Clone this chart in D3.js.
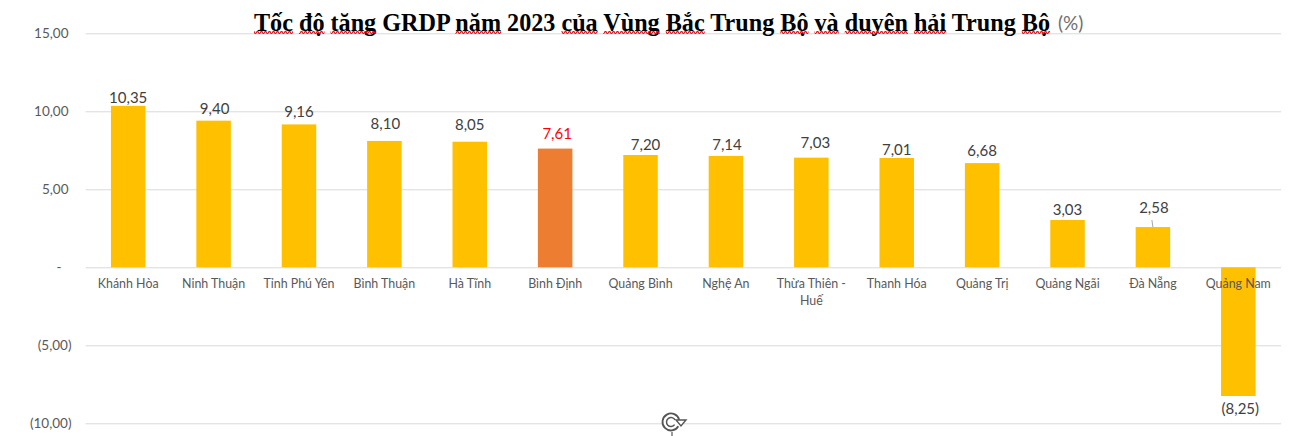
<!DOCTYPE html>
<html>
<head>
<meta charset="utf-8">
<script src="https://cdn.jsdelivr.net/npm/d3@7"></script>
<style>
  html, body { margin: 0; padding: 0; background: #fff; }
  svg { display: block; }
  text { font-family: Lato, "Open Sans", sans-serif; }
</style>
</head>
<body>
<div id="chart"></div>
<script>
const provinces = ['Khánh Hòa', 'Ninh Thuận', 'Tỉnh Phú Yên', 'Bình Thuận', 'Hà Tĩnh', 'Bình Định', 'Quảng Bình',
  'Nghệ An', 'Thừa Thiên - Huế', 'Thanh Hóa', 'Quảng Trị', 'Quảng Ngãi', 'Đà Nẵng', 'Quảng Nam'];
const growth = [10.35, 9.40, 9.16, 8.10, 8.05, 7.61, 7.20, 7.14, 7.03, 7.01, 6.68, 3.03, 2.58, -8.25];
const yTicks = [15, 10, 5, 0, -5, -10];
const highlighted = 'Bình Định';
const titleText = 'Tốc độ tăng GRDP năm 2023 của Vùng Bắc Trung Bộ và duyên hải Trung Bộ';
const unitText = '(%)';
// words the spell checker flagged in the original screenshot
const flaggedWords = ['Tốc', 'độ', 'tăng', 'năm', 'của', 'Vùng', 'Bắc', 'Bộ', 'và', 'duyên', 'hải', 'Bộ'];
// hand-placed data labels in the original, offsets from the default spot
const labelNudge = [[0, 1.5], [1, -3], [0, -3], [1, -7.5], [0, -7.5], [2, -6], [5, -1], [1, -2], [4, -6], [0, 1], [0, -3], [0, -1], [1, -10], [2, -1]];

const width = 1309, height = 436;
const margin = { top: 33.3, right: 28, bottom: 12.7, left: 85.5 };
const innerWidth = width - margin.left - margin.right;
const innerHeight = height - margin.top - margin.bottom;

const svg = d3.select('#chart').append('svg').attr('width', width).attr('height', height);

const defs = svg.append('defs');
defs.append('pattern')
  .attr('id', 'squiggle').attr('x', 0).attr('y', 31).attr('width', 4).attr('height', 3)
  .attr('patternUnits', 'userSpaceOnUse')
  .append('path')
  .attr('d', 'M0,2.5 L1,0.6 L2,0.6 L3,2.5 L4,2.5')
  .attr('fill', 'none').attr('stroke', '#e8101c').attr('stroke-width', 1.1);

const g = svg.append('g').attr('transform', `translate(${margin.left},${margin.top})`);

const x = d3.scaleBand().domain(provinces).range([0, innerWidth]).paddingInner(0.596).paddingOuter(0.298);
const y = d3.scaleLinear().domain([-10, 15]).range([innerHeight, 0]);

// y axis with accounting style labels
const formatNum = v => d3.format('.2f')(Math.abs(v)).replace('.', ',');
const formatTick = v => v === 0 ? '-' : v < 0 ? `(${formatNum(v)})` : formatNum(v);

const yAxis = g.append('g')
  .call(d3.axisLeft(y).tickValues(yTicks).tickSize(-innerWidth).tickPadding(17).tickFormat(formatTick));
yAxis.select('.domain').remove();
yAxis.selectAll('.tick line').attr('stroke', '#d9d9d9').attr('stroke-width', 1);
yAxis.selectAll('.tick text')
  .attr('fill', '#595959')
  .style('font-family', 'Lato, sans-serif')
  .style('font-size', '13.5px')
  .attr('dx', d => d === 0 ? -7 : d < 0 ? 3 : 0);

// bars
g.selectAll('.bar')
  .data(provinces)
  .join('rect')
  .attr('class', 'bar')
  .attr('x', d => x(d))
  .attr('width', x.bandwidth())
  .attr('y', (d, i) => y(Math.max(growth[i], 0)))
  .attr('height', (d, i) => Math.abs(y(growth[i]) - y(0)))
  .attr('fill', d => d === highlighted ? '#ed7d31' : '#ffc000');

// category labels sit at the zero line, over the negative bar
const catLabels = g.selectAll('.cat')
  .data(provinces)
  .join('text')
  .attr('class', 'cat')
  .attr('text-anchor', 'middle')
  .attr('fill', '#595959')
  .style('font-size', '12.4px')
  .attr('y', y(0) + 21);

catLabels.each(function (d) {
  const cx = x(d) + x.bandwidth() / 2;
  const lines = d === 'Thừa Thiên - Huế' ? ['Thừa Thiên -', 'Huế'] : [d];
  d3.select(this).selectAll('tspan')
    .data(lines)
    .join('tspan')
    .attr('x', cx)
    .attr('dy', (l, i) => i ? 17 : 0)
    .text(l => l);
});

// leader line for the Đà Nẵng label
const dnX = x('Đà Nẵng') + x.bandwidth() / 2;
g.append('line')
  .attr('x1', dnX).attr('x2', dnX - 1)
  .attr('y1', y(2.58)).attr('y2', y(2.58) - 7)
  .attr('stroke', '#a6a6a6').attr('stroke-width', 1);

// data labels
g.selectAll('.value')
  .data(provinces)
  .join('text')
  .attr('class', 'value')
  .attr('text-anchor', 'middle')
  .attr('fill', d => d === highlighted ? '#ff0000' : '#404040')
  .style('font-size', '15px')
  .attr('x', (d, i) => x(d) + x.bandwidth() / 2 + labelNudge[i][0])
  .attr('y', (d, i) => (growth[i] < 0 ? y(growth[i]) + 19 : y(growth[i]) - 4) + labelNudge[i][1])
  .text((d, i) => growth[i] < 0 ? `(${formatNum(growth[i])})` : formatNum(growth[i]));

// title, pasted over the chart: tall and a bit condensed in the original
const titleX = 254, titleY = 31, titleWidth = 796;
const title = svg.append('text')
  .attr('x', titleX).attr('y', titleY)
  .attr('fill', '#000')
  .style('font-family', '"Liberation Serif", serif')
  .style('font-weight', 'bold')
  .style('font-size', '26px')
  .text(titleText);

// squiggles under the flagged words, positions measured before squeezing the title
const titleNode = title.node();
const squeeze = titleWidth / titleNode.getComputedTextLength();
let searchFrom = 0;
flaggedWords.forEach(word => {
  const start = titleText.indexOf(word, searchFrom);
  searchFrom = start + word.length;
  const x0 = titleNode.getSubStringLength(0, start) * squeeze;
  const w = titleNode.getSubStringLength(start, word.length) * squeeze;
  svg.append('rect')
    .attr('x', titleX + x0).attr('y', 31)
    .attr('width', w).attr('height', 3)
    .attr('fill', 'url(#squiggle)');
});
title.attr('textLength', titleWidth).attr('lengthAdjust', 'spacingAndGlyphs');

svg.append('text')
  .attr('x', 1058).attr('y', 30)
  .attr('fill', '#6f6f6f')
  .style('font-size', '19px')
  .text(unitText);

// the little refresh cursor that got caught in the screenshot
const cursor = svg.append('g').attr('transform', 'translate(671,422)')
  .attr('fill', 'none').attr('stroke', '#555');
cursor.append('circle').attr('r', 9.5).attr('fill', '#fff').attr('stroke', 'none');
cursor.append('path').attr('stroke-width', 1.8)
  .attr('d', d3.arc()({ innerRadius: 8.5, outerRadius: 8.5, startAngle: 2.1, endAngle: 7.6 }));
cursor.append('path').attr('stroke-width', 1.5)
  .attr('d', d3.arc()({ innerRadius: 4.5, outerRadius: 4.5, startAngle: 2.2, endAngle: 7.4 }));
cursor.append('path').attr('stroke-width', 1.4).attr('fill', '#fff').attr('d', 'M5,-2 L15,-2 L10,4 Z');
cursor.append('line').attr('x1', 1).attr('x2', 1).attr('y1', 10).attr('y2', 14).attr('stroke-width', 1.2);
</script>
</body>
</html>
